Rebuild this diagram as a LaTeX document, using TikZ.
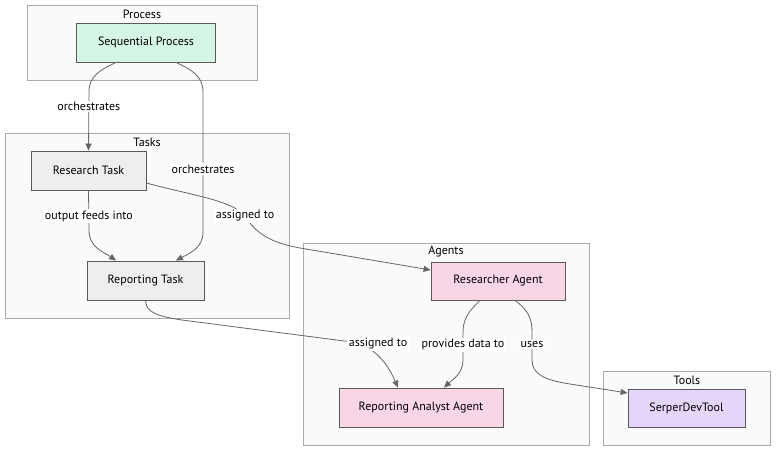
\documentclass[tikz,border=0pt]{standalone}
\usepackage{fontspec}
\setmainfont{PT Sans}
\usetikzlibrary{arrows.meta}
\definecolor{edgegray}{HTML}{666666}
\definecolor{clusterfill}{HTML}{FAFAFA}
\definecolor{clusterline}{HTML}{AAAAAA}
\definecolor{procfill}{HTML}{D5F6E4}
\definecolor{taskfill}{HTML}{EEEEEE}
\definecolor{agentfill}{HTML}{F9D6E6}
\definecolor{toolfill}{HTML}{E4D6F8}
\tikzset{
  cluster/.style={draw=clusterline,fill=clusterfill,line width=0.8pt},
  ctitle/.style={font=\fontsize{12}{14}\selectfont,inner sep=0pt},
  box/.style={draw=black!65,line width=0.8pt,minimum height=39pt,inner sep=0pt,font=\fontsize{12}{14}\selectfont},
  flow/.style={draw=edgegray,line width=0.8pt,-{Triangle[length=7pt,width=6pt]}},
  lbl/.style={fill=white,inner sep=1.5pt,font=\fontsize{12}{14}\selectfont}
}
\begin{document}
\begin{tikzpicture}[x=1pt,y=-1pt]
\useasboundingbox[fill=white] (0,0) rectangle (784,457);
\draw[cluster] (27,5) rectangle (257,80);
\draw[cluster] (5,133) rectangle (289,318);
\draw[cluster] (303,243) rectangle (589,445);
\draw[cluster] (603,371) rectangle (770,445);
\node[ctitle] (tproc) at (142,14) {Process};
\node[ctitle] (ttask) at (147,142) {Tasks};
\node[ctitle] (tagent) at (446,252) {Agents};
\node[ctitle] (ttool) at (687,380) {Tools};
\node[box,fill=procfill,minimum width=139pt] (seq) at (146,42.5) {Sequential Process};
\node[box,fill=taskfill,minimum width=115pt] (rtask) at (88.5,170.5) {Research Task};
\node[box,fill=taskfill,minimum width=117pt] (reptask) at (145.5,280.5) {Reporting Task};
\node[box,fill=agentfill,minimum width=134pt,minimum height=38pt] (ragent) at (498,281) {Researcher Agent};
\node[box,fill=agentfill,minimum width=164pt] (analyst) at (421,407.5) {Reporting Analyst Agent};
\node[box,fill=toolfill,minimum width=117pt,minimum height=38pt] (serper) at (686.5,408) {SerperDevTool};
\draw[flow] ([xshift=-30pt]seq.south) .. controls (100,70) and (89,76) .. (89,92) -- node[lbl,pos=0.25] {orchestrates} (rtask.north);
\draw[flow] ([xshift=30pt]seq.south) .. controls (192,70) and (203,76) .. (203,92) -- node[lbl,pos=0.55] {orchestrates} (203,232) .. controls (203,248) and (190,253) .. ([xshift=30.5pt]reptask.north);
\draw[flow] (rtask.south) -- node[lbl,pos=0.65] {output feeds into} (89,230) .. controls (89,248) and (104,252) .. ([xshift=-29.5pt]reptask.north);
\draw[flow] ([yshift=-12.5pt]rtask.east) .. controls (190,195) and (232,200) .. (245,216) .. controls (256,234) and (272,243) .. (300,248) -- ([yshift=11pt]ragent.west);
\node[lbl] (lassign1) at (245,216) {assigned to};
\draw[flow] (reptask.south) .. controls (146,312) and (156,316) .. (182,320) -- (352,342) .. controls (372,346) and (386,360) .. ([xshift=-23pt]analyst.north);
\node[lbl] (lassign2) at (378,344) {assigned to};
\draw[flow] ([xshift=-18pt]ragent.south) .. controls (470,310) and (463,318) .. (463,332) -- node[lbl,pos=0.45] {provides data to} (463,360) .. controls (463,374) and (452,380) .. ([xshift=23pt]analyst.north);
\draw[flow] ([xshift=17pt]ragent.south) .. controls (528,310) and (532,318) .. (532,332) -- node[lbl,pos=0.45] {uses} (532,360) .. controls (532,374) and (544,380) .. (570,384) -- ([yshift=15pt]serper.west);
\end{tikzpicture}
\end{document}
